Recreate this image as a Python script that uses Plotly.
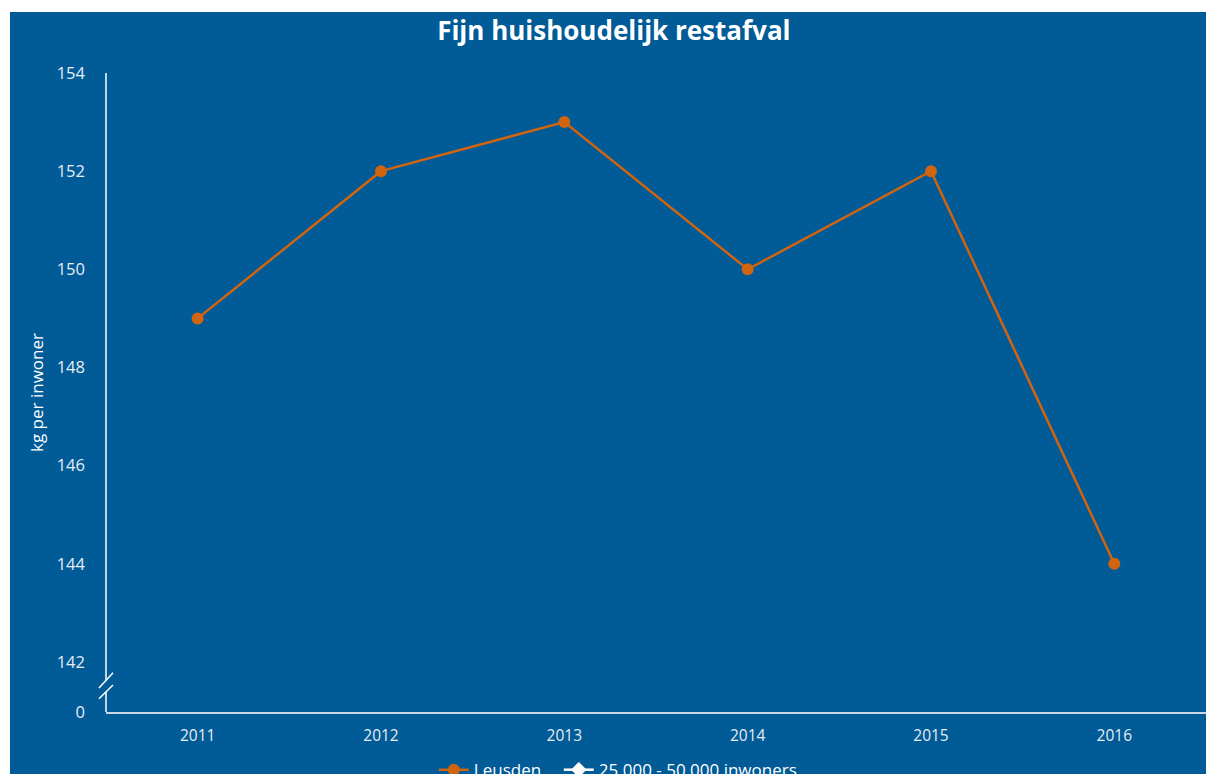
import plotly.graph_objects as go

years = ["2011", "2012", "2013", "2014", "2015", "2016"]
leusden = [149, 152, 153, 150, 152, 144]
klasse = [None, None, None, None, None, None]
ytick_vals = [142, 144, 146, 148, 150, 152, 154]
ytick_text = ["142", "144", "146", "148", "150", "152", "154"]

BLUE = "#005b97"
ORANGE = "#d0640f"
FONT = "Open Sans"

y_bottom = 140.98
y_top = 154

fig = go.Figure()
fig.add_trace(go.Scatter(
    x=years, y=leusden, name="Leusden", mode="lines+markers",
    line=dict(color=ORANGE, width=2.5),
    marker=dict(color=ORANGE, size=12, symbol="circle"),
    legendwidth=80,
))
fig.add_trace(go.Scatter(
    x=years, y=klasse, name="25.000 - 50.000 inwoners", mode="lines+markers",
    line=dict(color="white", width=2.5),
    marker=dict(color="white", size=12, symbol="diamond"),
))

shapes = [
    # blue panel
    dict(type="rect", xref="paper", yref="paper", x0=-0.0873, x1=1.05,
         y0=-0.3, y1=1.0955, fillcolor=BLUE, line=dict(width=0), layer="below"),
    # y axis line with break
    dict(type="line", xref="paper", yref="y", x0=0, x1=0, y0=y_top, y1=141.63,
         line=dict(color="white", width=1.5)),
    dict(type="line", xref="paper", yref="y", x0=0, x1=0, y0=141.40, y1=y_bottom,
         line=dict(color="white", width=1.5)),
    dict(type="line", xref="paper", yref="y", x0=-0.0064, x1=0.0064, y0=141.47, y1=141.78,
         line=dict(color="white", width=1.5)),
    dict(type="line", xref="paper", yref="y", x0=-0.0064, x1=0.0064, y0=141.25, y1=141.53,
         line=dict(color="white", width=1.5)),
]

fig.update_layout(
    width=1206, height=774,
    margin=dict(l=106, r=0, t=73, b=62, autoexpand=False),
    paper_bgcolor="white",
    plot_bgcolor="rgba(0,0,0,0)",
    font=dict(family=FONT, color="white", size=15),
    title=dict(text="<b>Fijn huishoudelijk restafval</b>", x=0.509, xanchor="center",
               y=0.96, yanchor="middle", font=dict(size=26, color="white", family=FONT)),
    showlegend=True,
    legend=dict(orientation="h", x=0.298, xanchor="left", y=-0.091, yanchor="middle",
                font=dict(size=17, color="white"), bgcolor="rgba(0,0,0,0)",
                itemwidth=30),
    shapes=shapes,
    hovermode=False,
)
fig.update_xaxes(
    type="category", range=[-0.5, 5.5], showgrid=False, zeroline=False,
    showline=True, linecolor="#c8d6e5", linewidth=2,
    tickfont=dict(size=15.5, color="#e6edf4"), ticks="", ticklabelstandoff=8,
)
fig.update_yaxes(
    range=[y_bottom, y_top], showgrid=False, zeroline=False, showline=False,
    tickvals=ytick_vals + [y_bottom], ticktext=ytick_text + ["0"],
    tickfont=dict(size=16.5, color="#e6edf4"), ticks="", ticklabelstandoff=20,
    title=dict(text="kg per inwoner", font=dict(size=17, color="white"), standoff=8),
)

fig.write_html(
    "out.html",
    config={"displayModeBar": False},
    post_script="document.body.style.margin='0';document.body.style.overflow='hidden';",
)
